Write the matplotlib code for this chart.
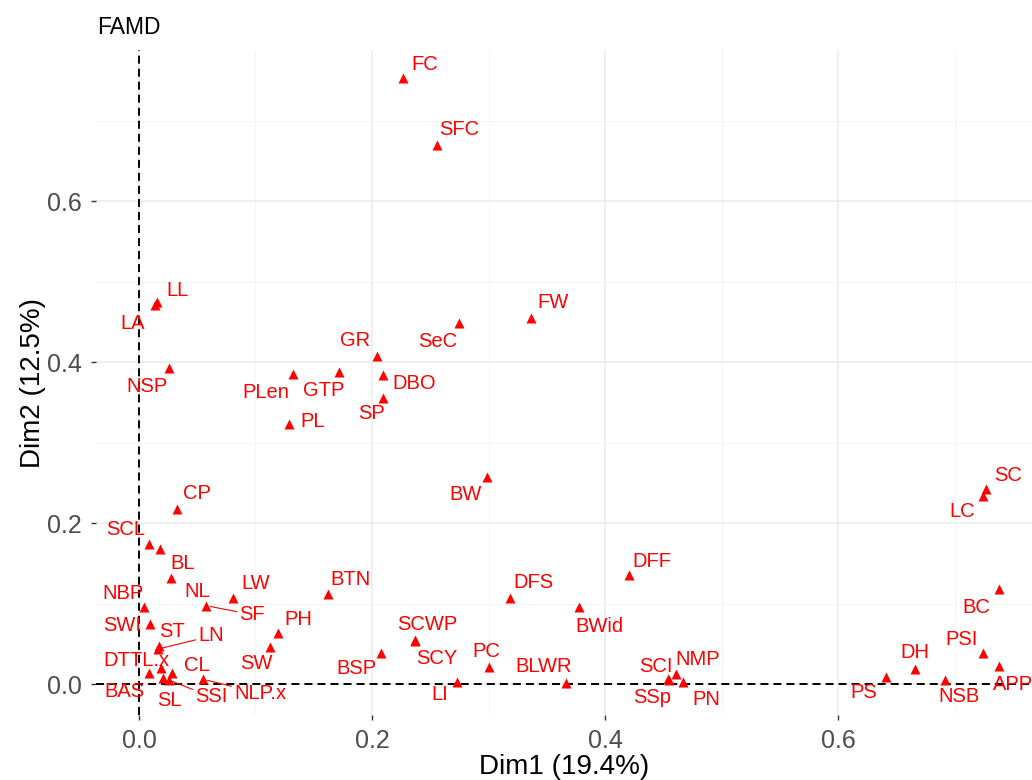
import matplotlib
matplotlib.use("Agg")
import matplotlib.pyplot as plt
from matplotlib.ticker import MultipleLocator

# FAMD variable coordinates (Dim1, Dim2)
labels = ['FC', 'SFC', 'LL', 'LA', 'NSP', 'PLen', 'GTP', 'GR', 'DBO', 'SP',
          'PL', 'SeC', 'FW', 'BW', 'CP', 'SCL', 'BL', 'NL', 'LW', 'SF',
          'BTN', 'NBP', 'SWI', 'PH', 'SW', 'ST', 'LN', 'DTTL.x', 'BAS', 'SL',
          'CL', 'SSI', 'NLP.x', 'BSP', 'SCWP', 'SCY', 'PC', 'LI', 'BLWR', 'DFS',
          'BWid', 'DFF', 'SCI', 'SSp', 'NMP', 'PN', 'SC', 'LC', 'BC', 'PSI',
          'APP', 'DH', 'PS', 'NSB']
dim1 = [0.2266, 0.2558, 0.0152, 0.0137, 0.0260, 0.1319, 0.1719, 0.2040, 0.2092, 0.2097,
        0.1290, 0.2749, 0.3362, 0.2987, 0.0324, 0.0088, 0.0180, 0.0277, 0.0810, 0.0578,
        0.1622, 0.0043, 0.0094, 0.1190, 0.1127, 0.0174, 0.0166, 0.0186, 0.0088, 0.0209,
        0.0283, 0.0255, 0.0552, 0.2075, 0.2367, 0.2367, 0.3007, 0.2727, 0.3665, 0.3185,
        0.3774, 0.4203, 0.4543, 0.4545, 0.4609, 0.4672, 0.7270, 0.7242, 0.7382, 0.7242,
        0.7382, 0.6658, 0.6415, 0.6918]
dim2 = [0.753, 0.6696, 0.474, 0.4708, 0.392, 0.385, 0.387, 0.408, 0.3835, 0.3557,
        0.323, 0.448, 0.455, 0.257, 0.218, 0.174, 0.1677, 0.1317, 0.1068, 0.0973,
        0.1118, 0.0953, 0.0745, 0.063, 0.0456, 0.0476, 0.0435, 0.0195, 0.0133, 0.0078,
        0.0133, 0.005, 0.0058, 0.0381, 0.0547, 0.054, 0.0215, 0.0029, 0.0016, 0.1072,
        0.0953, 0.1354, 0.0058, 0.0055, 0.0121, 0.0021, 0.2419, 0.2339, 0.1176, 0.0381,
        0.0224, 0.019, 0.0083, 0.005]

# label placement (pixel offsets, x right / y down), mimicking ggrepel
offsets = {
    'FC': (22, -13), 'SFC': (22, -15), 'LL': (21, -12), 'LA': (-22, 18),
    'NSP': (-22, 18), 'PLen': (-27, 18), 'GTP': (-16, 18), 'GR': (-22, -15),
    'DBO': (31, 8), 'SP': (-12, 16), 'PL': (23, -2), 'SeC': (-22, 18),
    'FW': (22, -15), 'BW': (-21, 17), 'CP': (20, -15), 'SCL': (-24, -14),
    'BL': (23, 14), 'NL': (26, 14), 'LW': (22, -15), 'SF': (46, 9),
    'BTN': (23, -15), 'NBP': (-21, -14), 'SWI': (-28, 1), 'PH': (21, -14),
    'SW': (-14, 16), 'ST': (13, -14), 'LN': (53, -13), 'DTTL.x': (-24, -8),
    'CL': (25, -8), 'BAS': (-25, 18), 'SL': (6, 23), 'SSI': (43, 17),
    'NLP.x': (57, 14), 'BSP': (-24, 15), 'SCWP': (13, -15), 'SCY': (22, 18),
    'PC': (-3, -15), 'LI': (-17, 13), 'BLWR': (-22, -16), 'DFS': (23, -15),
    'BWid': (21, 19), 'DFF': (23, -14), 'SCI': (-12, -13), 'NMP': (22, -15),
    'SSp': (-16, 18), 'PN': (23, 17), 'SC': (22, -14), 'LC': (-21, 16),
    'BC': (-23, 18), 'PSI': (-21, -14), 'APP': (14, 19), 'DH': (0, -16),
    'PS': (-23, 15), 'NSB': (14, 17),
}
with_segment = {'LN', 'SF', 'SSI', 'NLP.x'}

plt.rcParams['font.family'] = ['Liberation Sans', 'DejaVu Sans']

fig = plt.figure(figsize=(10.32, 7.8), dpi=100)
# panel spans px 96..1032 horizontally, 50..715 vertically
ax = fig.add_axes([96 / 1032, 1 - 715 / 780, 1 - 96 / 1032, 665 / 780])

ax.set_xlim(-0.0369, 0.7665)
ax.set_ylim(-0.0385, 0.7876)
ax.set_axisbelow(True)

ax.xaxis.set_major_locator(MultipleLocator(0.2))
ax.yaxis.set_major_locator(MultipleLocator(0.2))
ax.xaxis.set_minor_locator(MultipleLocator(0.1))
ax.yaxis.set_minor_locator(MultipleLocator(0.1))
ax.grid(True, which='major', color='#EBEBEB', linewidth=1.1)
ax.grid(True, which='minor', color='#F2F2F2', linewidth=0.6)
for s in ax.spines.values():
    s.set_visible(False)
ax.tick_params(which='minor', length=0)
ax.tick_params(which='major', length=3.6, width=1, color='#333333',
               labelsize=18, labelcolor='#4D4D4D', pad=6.5)
ax.set_xticklabels([f'{t:.1f}' for t in ax.get_xticks()])
ax.set_yticklabels([f'{t:.1f}' for t in ax.get_yticks()])

ax.axhline(0, color='black', linestyle=(0, (4.1, 2.6)), linewidth=1.4, zorder=2)
ax.axvline(0, color='black', linestyle=(0, (4.1, 2.6)), linewidth=1.4, zorder=2)

ax.scatter(dim1, dim2, marker='^', s=52, color='red', linewidths=0, zorder=3)

for name, x, y in zip(labels, dim1, dim2):
    dx, dy = offsets[name]
    arrow = None
    if name in with_segment:
        arrow = dict(arrowstyle='-', color='red', linewidth=0.8,
                     shrinkA=0, shrinkB=3)
    ax.annotate(name, (x, y), xytext=(dx, -dy), textcoords='offset pixels',
                ha='center', va='center', fontsize=14.5, color='red',
                arrowprops=arrow, annotation_clip=False, zorder=4)

ax.set_xlabel('Dim1 (19.4%)', fontsize=20, labelpad=1)
ax.set_ylabel('Dim2 (12.5%)', fontsize=20, labelpad=0.5)
fig.text(97 / 1032, 1 - 27 / 780, 'FAMD', fontsize=16.5, ha='left', va='center')

fig.savefig('out.png', dpi=100)
